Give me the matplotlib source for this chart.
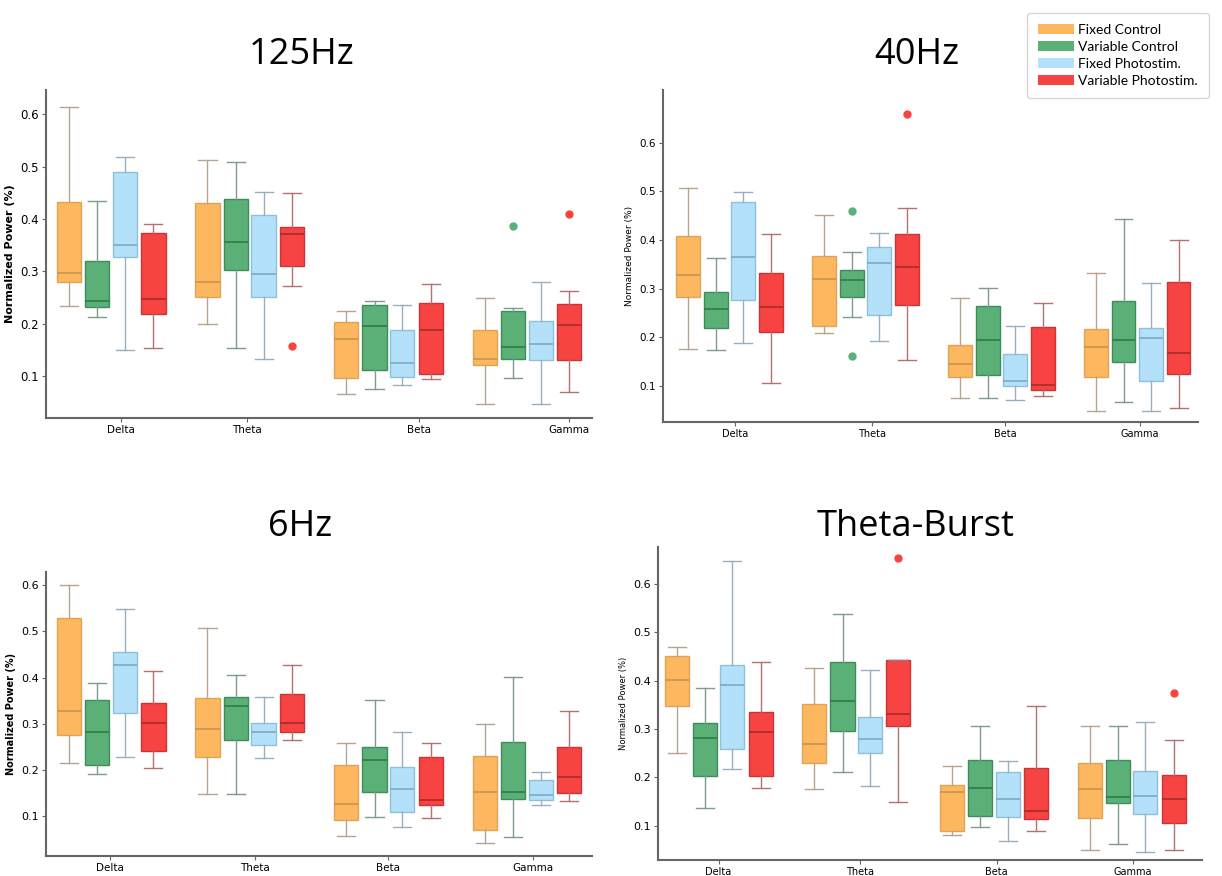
import numpy as np
import matplotlib.pyplot as plt
from matplotlib.patches import Patch

plt.rcParams['font.family'] = ['DejaVu Sans']

bands = ['Delta', 'Theta', 'Beta', 'Gamma']
groups = ['Fixed Control', 'Variable Control', 'Fixed Photostim.', 'Variable Photostim.']

# each stat: rows = group (Fixed Ctrl, Var Ctrl, Fixed Photo, Var Photo), cols = band
# 125Hz
hz125_lo = [[0.234, 0.200, 0.065, 0.047], [0.212, 0.154, 0.074, 0.096],
            [0.149, 0.132, 0.082, 0.047], [0.154, 0.272, 0.093, 0.069]]
hz125_q1 = [[0.279, 0.251, 0.096, 0.120], [0.231, 0.303, 0.112, 0.132],
            [0.328, 0.251, 0.097, 0.130], [0.219, 0.310, 0.103, 0.130]]
hz125_med = [[0.296, 0.280, 0.171, 0.132], [0.243, 0.355, 0.195, 0.156],
             [0.350, 0.295, 0.125, 0.161], [0.246, 0.372, 0.188, 0.197]]
hz125_q3 = [[0.432, 0.430, 0.202, 0.188], [0.319, 0.439, 0.236, 0.224],
            [0.489, 0.408, 0.188, 0.205], [0.374, 0.384, 0.239, 0.238]]
hz125_hi = [[0.614, 0.513, 0.224, 0.248], [0.435, 0.508, 0.244, 0.229],
            [0.518, 0.452, 0.236, 0.279], [0.390, 0.449, 0.276, 0.263]]
hz125_fliers = [[[], [], [], []], [[], [], [], [0.386]],
                [[], [], [], []], [[], [0.157], [], [0.409]]]

# 40Hz
hz40_lo = [[0.176, 0.208, 0.074, 0.048], [0.173, 0.242, 0.074, 0.066],
           [0.188, 0.192, 0.071, 0.048], [0.105, 0.153, 0.079, 0.055]]
hz40_q1 = [[0.283, 0.223, 0.119, 0.119], [0.219, 0.283, 0.123, 0.149],
           [0.276, 0.246, 0.100, 0.110], [0.210, 0.267, 0.091, 0.125]]
hz40_med = [[0.328, 0.320, 0.145, 0.179], [0.258, 0.317, 0.195, 0.195],
            [0.365, 0.352, 0.110, 0.199], [0.263, 0.344, 0.101, 0.168]]
hz40_q3 = [[0.409, 0.367, 0.184, 0.216], [0.292, 0.339, 0.265, 0.274],
           [0.478, 0.386, 0.165, 0.218], [0.331, 0.413, 0.221, 0.313]]
hz40_hi = [[0.507, 0.451, 0.281, 0.331], [0.362, 0.375, 0.302, 0.444],
           [0.498, 0.415, 0.223, 0.311], [0.412, 0.465, 0.271, 0.399]]
hz40_fliers = [[[], [], [], []], [[], [0.459, 0.161], [], []],
               [[], [], [], []], [[], [0.660], [], []]]

# 6Hz
hz6_lo = [[0.215, 0.148, 0.057, 0.040], [0.190, 0.148, 0.098, 0.054],
          [0.228, 0.225, 0.076, 0.123], [0.203, 0.264, 0.096, 0.132]]
hz6_q1 = [[0.275, 0.228, 0.091, 0.070], [0.211, 0.264, 0.151, 0.136],
          [0.322, 0.253, 0.109, 0.134], [0.241, 0.281, 0.123, 0.150]]
hz6_med = [[0.328, 0.289, 0.125, 0.151], [0.281, 0.338, 0.220, 0.151],
           [0.427, 0.281, 0.159, 0.145], [0.302, 0.302, 0.135, 0.184]]
hz6_q3 = [[0.529, 0.356, 0.211, 0.230], [0.352, 0.358, 0.250, 0.261],
          [0.455, 0.302, 0.205, 0.178], [0.344, 0.364, 0.228, 0.250]]
hz6_hi = [[0.600, 0.508, 0.258, 0.300], [0.388, 0.405, 0.352, 0.402],
          [0.548, 0.358, 0.281, 0.195], [0.414, 0.427, 0.258, 0.328]]
hz6_fliers = [[[], [], [], []], [[], [], [], []],
              [[], [], [], []], [[], [], [], []]]

# Theta-Burst
tb_lo = [[0.251, 0.175, 0.080, 0.050], [0.137, 0.212, 0.098, 0.063],
         [0.217, 0.182, 0.069, 0.045], [0.177, 0.150, 0.090, 0.050]]
tb_q1 = [[0.347, 0.230, 0.088, 0.115], [0.203, 0.295, 0.121, 0.147],
         [0.259, 0.251, 0.117, 0.124], [0.202, 0.306, 0.113, 0.105]]
tb_med = [[0.401, 0.270, 0.169, 0.175], [0.282, 0.359, 0.179, 0.159],
          [0.391, 0.280, 0.156, 0.161], [0.293, 0.331, 0.130, 0.156]]
tb_q3 = [[0.452, 0.351, 0.184, 0.230], [0.312, 0.438, 0.237, 0.237],
         [0.433, 0.324, 0.211, 0.214], [0.335, 0.442, 0.219, 0.204]]
tb_hi = [[0.470, 0.426, 0.224, 0.306], [0.386, 0.539, 0.306, 0.306],
         [0.647, 0.423, 0.233, 0.315], [0.438, 0.444, 0.347, 0.277]]
tb_fliers = [[[], [], [], []], [[], [], [], []],
             [[], [], [], []], [[], [0.654], [], [0.375]]]

face = ['#FDB75E', '#5BB077', '#B4E1FA', '#F84343']
edge = ['#E0A458', '#3F8C5B', '#8FC0DA', '#C93434']
whisk = ['#B8A48E', '#7F9B8C', '#9AAFBE', '#B57070']
medc = ['#C99350', '#2F7A4B', '#7FA9C2', '#A82A2A']

panels = [
    dict(title='125Hz', data=(hz125_lo, hz125_q1, hz125_med, hz125_q3, hz125_hi, hz125_fliers),
         rect=[0.0376, 0.523, 0.447, 0.3745], ylim=(0.0196, 0.647), xlim=(-0.47, 3.47),
         tickoff=[0.07, -0.02, 0.22, 0.30], title_xy=(302, 55), ylsize=8, yweight='bold', ytick=8.5, xtick=7.5),
    dict(title='40Hz', data=(hz40_lo, hz40_q1, hz40_med, hz40_q3, hz40_hi, hz40_fliers),
         rect=[0.5426, 0.518, 0.438, 0.379], ylim=(0.025, 0.708), xlim=(-0.49, 3.45),
         tickoff=[0.04, 0.05, 0.03, 0.02], title_xy=(917, 55), ylsize=6.5, yweight='normal', ytick=7.5, xtick=7),
    dict(title='6Hz', data=(hz6_lo, hz6_q1, hz6_med, hz6_q3, hz6_hi, hz6_fliers),
         rect=[0.0376, 0.0228, 0.447, 0.3242], ylim=(0.0126, 0.629), xlim=(-0.47, 3.47),
         tickoff=[-0.01, 0.04, 0.0, 0.04], title_xy=(300, 527), ylsize=7, yweight='bold', ytick=8, xtick=7.5),
    dict(title='Theta-Burst', data=(tb_lo, tb_q1, tb_med, tb_q3, tb_hi, tb_fliers),
         rect=[0.5385, 0.0183, 0.445, 0.3573], ylim=(0.029, 0.677), xlim=(-0.44, 3.51),
         tickoff=[0.0, 0.03, 0.02, 0.01], title_xy=(916, 527), ylsize=6, yweight='normal', ytick=8, xtick=7),
]

W, H = 1222, 876
fig = plt.figure(figsize=(W / 100, H / 100), dpi=100)

offsets = [-0.305, -0.1, 0.1, 0.305]
bw = 0.175

for p in panels:
    ax = fig.add_axes(p['rect'])
    lo, q1, med, q3, hi, fl = p['data']
    for g in range(4):
        stats = []
        for b in range(4):
            stats.append(dict(whislo=lo[g][b], q1=q1[g][b], med=med[g][b],
                              q3=q3[g][b], whishi=hi[g][b], fliers=fl[g][b]))
        pos = np.arange(4) + offsets[g]
        ax.bxp(stats, positions=pos, widths=bw, patch_artist=True, showfliers=True,
               capwidths=bw * 0.75, manage_ticks=False,
               boxprops=dict(facecolor=face[g], edgecolor=edge[g], linewidth=1.0),
               whiskerprops=dict(color=whisk[g], linewidth=1.0),
               capprops=dict(color=whisk[g], linewidth=1.0),
               medianprops=dict(color=medc[g], linewidth=1.2),
               flierprops=dict(marker='o', markerfacecolor=face[g], markeredgecolor=face[g],
                               markersize=5))
    ax.set_xlim(*p['xlim'])
    ax.set_ylim(*p['ylim'])
    ax.set_xticks(np.arange(4) + np.array(p['tickoff']))
    ax.set_xticklabels(bands, fontsize=p['xtick'])
    ax.set_yticks([0.1, 0.2, 0.3, 0.4, 0.5, 0.6])
    ax.set_yticklabels(['0.1', '0.2', '0.3', '0.4', '0.5', '0.6'], fontsize=p['ytick'])
    ax.set_ylabel('Normalized Power (%)', fontsize=p['ylsize'], fontweight=p['yweight'])
    for s in ['top', 'right']:
        ax.spines[s].set_visible(False)
    for s in ['left', 'bottom']:
        ax.spines[s].set_color('#666666')
        ax.spines[s].set_linewidth(1.5)
    ax.tick_params(length=3, color='#666666', pad=2)
    fig.text(p['title_xy'][0] / W, 1 - p['title_xy'][1] / H, p['title'],
             fontsize=26, family='Open Sans', ha='center', va='center')

handles = [Patch(facecolor=face[i], edgecolor='none', label=groups[i]) for i in range(4)]
fig.legend(handles=handles, loc='upper right', bbox_to_anchor=(1216 / W, 1 - 6 / H),
           prop={'family': 'Lato', 'size': 10}, handlelength=2.6, handleheight=0.75,
           labelspacing=0.35, borderpad=0.8, handletextpad=0.3, frameon=True,
           edgecolor='#cccccc', fancybox=True)

fig.savefig('out.png', dpi=100)
